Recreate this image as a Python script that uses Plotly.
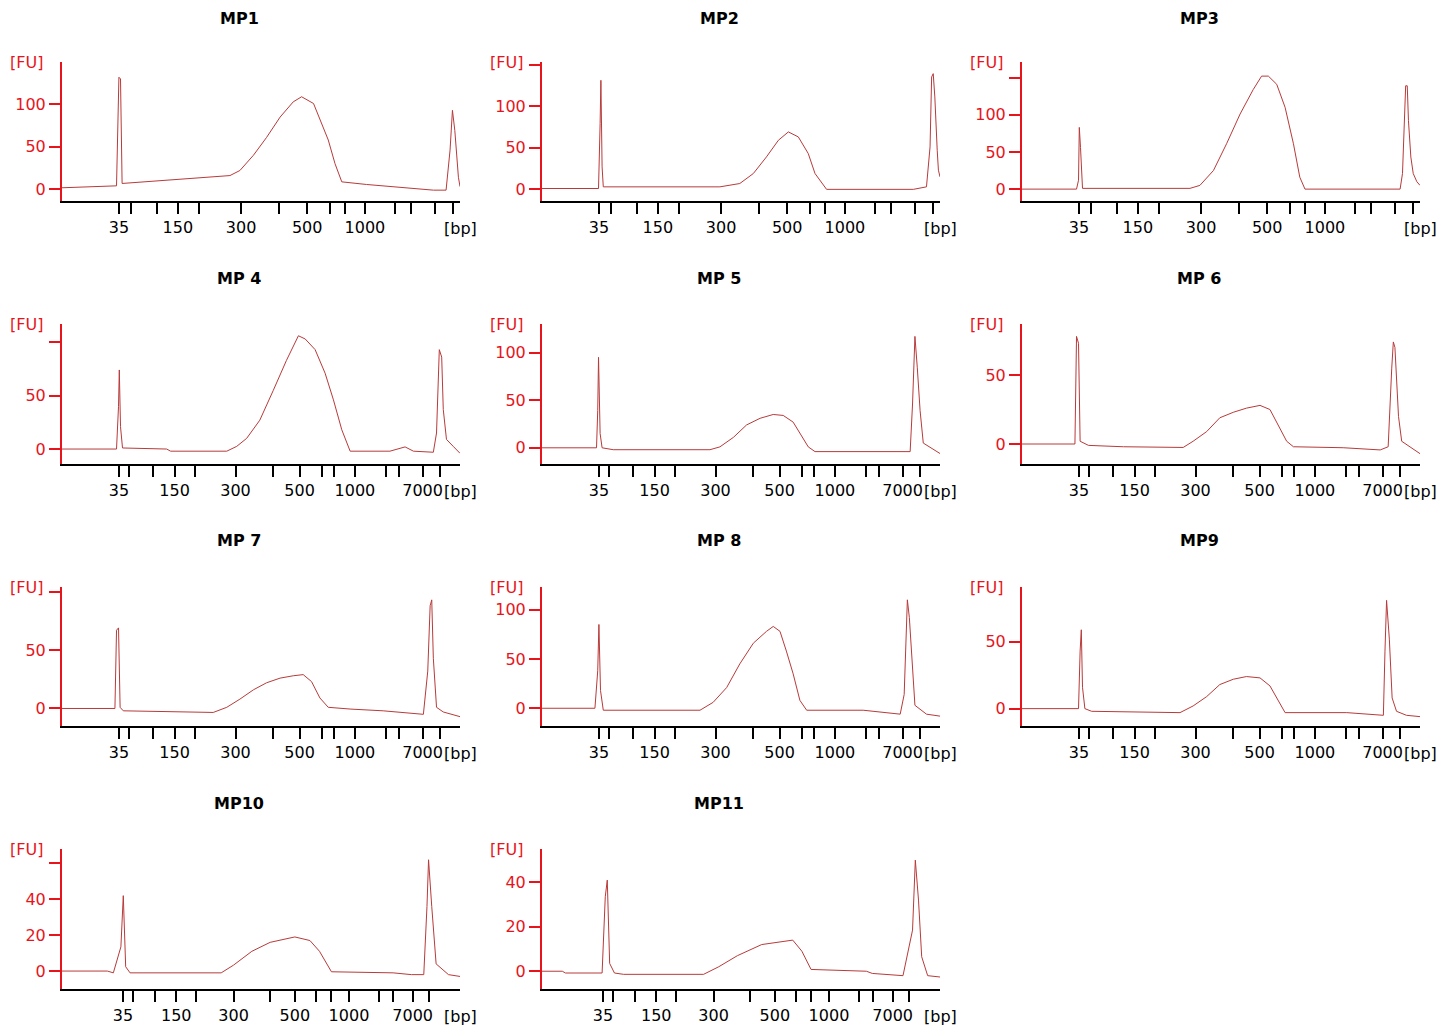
import plotly.graph_objects as go

W, H = 1453, 1035
OFF = 8  # page body margin offset
titles = ["MP1", "MP2", "MP3", "MP 4", "MP 5", "MP 6", "MP 7", "MP 8", "MP9", "MP10", "MP11"]

# x positions in % of axis length (migration position), y in FU
mp1_x = [0, 13.7, 14.3, 14.7, 15.1, 42.2, 44.7, 48.1, 51.4, 54.8, 58.1, 60.2, 63.2, 65.2, 66.9, 68.6, 70.3, 76.5, 93.3, 96.5, 97.5, 98.1, 98.7, 99.6, 100]
mp1_y = [1.6, 3.9, 132, 130, 6.7, 16, 22, 40, 61, 85, 103, 109, 101, 77, 58, 30, 8.6, 5.5, -1.2, -1.2, 46, 93, 69, 14, 3]
mp2_x = [0, 14.2, 14.6, 14.8, 15.1, 15.4, 44.7, 49.7, 53.1, 56.4, 59.4, 61.9, 64.4, 66.9, 68.6, 71.5, 93.3, 96.6, 97.5, 97.9, 98.3, 98.7, 99.3, 99.6, 100]
mp2_y = [1, 1, 79, 131, 27, 3, 3, 7, 19, 39, 59, 69, 63, 43, 19, 0, 0, 3, 51, 135, 139, 111, 47, 23, 15]
mp3_x = [0, 13.7, 14.2, 14.4, 14.7, 15.2, 42.2, 44.7, 48.1, 51.4, 54.8, 58.1, 60.2, 61.9, 64.0, 66.1, 68.2, 69.8, 71.1, 95.0, 95.6, 96.1, 96.4, 96.8, 97.1, 97.7, 98.3, 99.2, 100]
mp3_y = [0, 0, 12, 83, 56, 1, 1, 5, 25, 61, 101, 134, 152, 152, 141, 110, 61, 16, 0, 0, 21, 101, 139, 139, 92, 43, 21, 10, 5]
mp4_x = [0, 13.7, 14.2, 14.4, 14.7, 15.2, 26.3, 27.3, 41.4, 43.9, 46.4, 49.7, 53.1, 56.4, 59.4, 61.1, 63.6, 66.1, 68.2, 70.3, 72.4, 82.4, 86.2, 88.3, 93.3, 94.1, 94.8, 95.4, 95.8, 96.6, 98.3, 100]
mp4_y = [0, 0, 40, 74, 21, 1, 0, -2, -2, 2.5, 10, 27, 55, 83, 106, 103, 93, 71, 46, 18, -2, -2, 2, -2, -3, 15, 93, 86, 37, 9, 2.5, -4]
mp5_x = [0, 13.7, 14.0, 14.2, 14.6, 15.1, 17.9, 42.2, 44.7, 48.1, 51.4, 54.8, 58.1, 60.6, 63.1, 64.8, 66.9, 68.6, 92.5, 93.1, 93.7, 94.3, 95.0, 95.8, 100]
mp5_y = [0, 0, 39, 95, 15, 0, -2, -2, 1, 11, 24, 31, 35, 34, 27, 15, 1, -4, -4, 46, 117, 84, 39, 5, -6]
mp6_x = [0, 13.3, 13.7, 14.2, 14.6, 16.7, 25.5, 40.5, 43.0, 46.4, 49.7, 53.1, 56.4, 59.8, 62.3, 64.4, 66.5, 68.2, 80.7, 90.0, 92.0, 92.9, 93.3, 93.7, 94.6, 95.4, 100]
mp6_y = [0, 0, 78, 73, 2, -1, -2, -2.5, 2, 9, 19, 23, 26, 28, 25, 14, 2, -2, -2.7, -4.3, -2, 55, 74, 70, 20, 2, -7]
mp7_x = [0, 13.3, 13.7, 14.2, 14.6, 15.4, 38.0, 41.4, 44.7, 48.1, 51.4, 54.8, 58.1, 60.6, 62.7, 64.8, 66.9, 72.4, 80.7, 90.8, 91.9, 92.5, 92.9, 93.3, 94.1, 95.8, 100]
mp7_y = [0, 0, 67, 69, 1, -2, -3.4, 1, 8, 16, 22, 26, 28, 29, 23, 9, 1, -0.5, -2, -5, 32, 88, 93, 43, 1, -3, -7]
mp8_x = [0, 13.3, 14.0, 14.3, 14.7, 15.4, 39.7, 43.0, 46.4, 49.7, 53.1, 56.4, 58.1, 59.8, 61.4, 63.1, 64.8, 66.5, 80.7, 90.0, 91.0, 91.5, 91.8, 92.3, 92.9, 93.7, 96.6, 100]
mp8_y = [0, 0, 38, 85, 18, -2, -2, 6, 21, 45, 66, 78, 83, 78, 58, 35, 8, -2, -2, -6, 14, 82, 110, 92, 48, 3, -6, -8]
mp9_x = [0, 14.2, 14.6, 14.9, 15.2, 15.8, 17.5, 39.7, 43.0, 46.4, 49.7, 53.1, 56.4, 59.8, 62.3, 64.4, 66.1, 81.6, 90.8, 91.2, 91.6, 92.3, 93.0, 94.1, 96.6, 100]
mp9_y = [0, 0, 43, 59, 16, 0, -2, -3, 2, 9, 18, 22, 24, 23, 17, 6, -3, -3, -5, 43, 81, 52, 8, -2, -5, -6]
mp10_x = [0, 11.4, 12.9, 14.8, 15.4, 16.0, 17.1, 35.3, 40.0, 43.1, 47.7, 52.3, 58.5, 62.3, 64.7, 67.7, 83.2, 87.8, 90.9, 91.7, 92.1, 92.9, 94.0, 97.1, 100]
mp10_y = [0, 0, -1, 13.5, 42, 2.4, -1, -1, -1, 3.3, 11, 16, 19, 17, 11, -0.4, -1, -2, -2, 36, 62, 36, 4, -2, -3]
mp11_x = [0, 5.1, 5.9, 15.1, 15.9, 16.4, 17.0, 18.2, 20.5, 40.6, 44.4, 49.1, 55.2, 59.9, 63.0, 65.3, 67.6, 81.5, 83.0, 90.7, 93.1, 93.8, 94.6, 95.4, 96.9, 100]
mp11_y = [0, 0, -0.8, -0.8, 33.5, 41, 3.5, -0.8, -1.4, -1.4, 2, 7, 12, 13, 14, 9, 0.8, 0, -1, -2, 18.5, 50, 32, 6.5, -2, -2.6]

xs = [mp1_x, mp2_x, mp3_x, mp4_x, mp5_x, mp6_x, mp7_x, mp8_x, mp9_x, mp10_x, mp11_x]
ys = [mp1_y, mp2_y, mp3_y, mp4_y, mp5_y, mp6_y, mp7_y, mp8_y, mp9_y, mp10_y, mp11_y]

y_ranges = [[-14, 150], [-14, 153], [-16, 171], [-14, 117], [-17, 130], [-14.5, 87],
            [-15, 104], [-18, 123], [-13, 91], [-10, 68], [-8, 55]]
y_ticks = [[0, 50, 100], [0, 50, 100, 150], [0, 50, 100, 150], [0, 50, 100], [0, 50, 100],
           [0, 50], [0, 50, 100], [0, 50, 100], [0, 50], [0, 20, 40, 60], [0, 20, 40]]
y_labels = [["0", "50", "100"], ["0", "50", "100", ""], ["0", "50", "100", ""], ["0", "50", ""],
            ["0", "50", "100"], ["0", "50"], ["0", "50", ""], ["0", "50", "100"], ["0", "50"],
            ["0", "20", "40", ""], ["0", "20", "40"]]

ladder_bp = ["35", "", "", "150", "", "300", "", "500", "", "", "1000", "", "", "7000", ""]
ticks_row1 = [14.3, 17.3, 23.9, 29.1, 34.4, 45.0, 54.5, 61.6, 67.3, 71.1, 76.1, 83.7, 87.7, 93.7, 98.2]
ticks_mid = [14.3, 16.8, 22.9, 28.3, 33.4, 43.6, 53.1, 59.7, 65.2, 68.4, 73.6, 81.3, 84.7, 90.6, 95.0]
ticks_row5 = [15.3, 17.9, 23.3, 28.7, 33.6, 43.1, 52.3, 58.5, 63.9, 67.6, 72.1, 79.6, 83.2, 88.1, 92.1]

row_tops = [62, 324, 587, 849]
row_bots = [201, 464, 726, 989]
title_y = [15, 278, 540, 803]

def px(x):
    return (x - OFF) / W

def py(y):
    return 1 - (y - OFF) / H

fig = go.Figure()
FONT = "DejaVu Sans"
anns = []
for i in range(11):
    r, c = divmod(i, 3)
    n = i + 1
    xa = "x" if n == 1 else f"x{n}"
    ya = "y" if n == 1 else f"y{n}"
    fig.add_trace(go.Scatter(x=xs[i], y=ys[i], mode="lines", xaxis=xa, yaxis=ya,
                             line=dict(color="#b83a3a", width=1), showlegend=False, hoverinfo="skip"))
    left, right = 62 + 480 * c, 460 + 480 * c
    if r == 0:
        tv, tt = ticks_row1, [t if t != "7000" else "" for t in ladder_bp]
    elif r < 3:
        tv, tt = ticks_mid, ladder_bp
    else:
        tv, tt = ticks_row5, ladder_bp
    fig.layout[f"xaxis{'' if n == 1 else n}"] = dict(
        domain=[px(left), px(right)], range=[0, 100], anchor=ya,
        showline=True, linecolor="black", linewidth=2, showgrid=False, zeroline=False,
        ticks="outside", ticklen=11, tickwidth=2, tickcolor="black",
        tickvals=tv, ticktext=tt, tickfont=dict(family=FONT, size=16, color="black"))
    fig.layout[f"yaxis{'' if n == 1 else n}"] = dict(
        domain=[py(row_bots[r]), py(row_tops[r])], range=y_ranges[i], anchor=xa,
        showline=True, linecolor="#e8141c", linewidth=2, showgrid=False, zeroline=False,
        ticks="outside", ticklen=11, tickwidth=2, tickcolor="#e8141c",
        tickvals=y_ticks[i], ticktext=y_labels[i], tickfont=dict(family=FONT, size=16, color="#e8141c"))
    if r == 0:
        tpos, tanchor = 1.0, "top"
    else:
        tpos, tanchor = py(title_y[r]), "middle"
    anns.append(dict(text=f"<b>{titles[i]}</b>", x=px(239 + 480 * c), y=tpos, borderpad=0,
                     xref="paper", yref="paper", showarrow=False, xanchor="center", yanchor=tanchor,
                     font=dict(family=FONT, size=16, color="black")))
    anns.append(dict(text="[FU]", x=px(left - 36), y=py(row_tops[r]),
                     xref="paper", yref="paper", showarrow=False, xanchor="center", yanchor="middle",
                     font=dict(family=FONT, size=16, color="#e8141c")))
    anns.append(dict(text="[bp]", x=px(right + 19), y=py(row_bots[r] + 27),
                     xref="paper", yref="paper", showarrow=False, xanchor="right", yanchor="middle",
                     font=dict(family=FONT, size=16, color="black")))

fig.update_layout(width=W, height=H, margin=dict(l=0, r=0, t=0, b=0),
                  paper_bgcolor="white", plot_bgcolor="white", annotations=anns)
fig.write_html("out.html")
